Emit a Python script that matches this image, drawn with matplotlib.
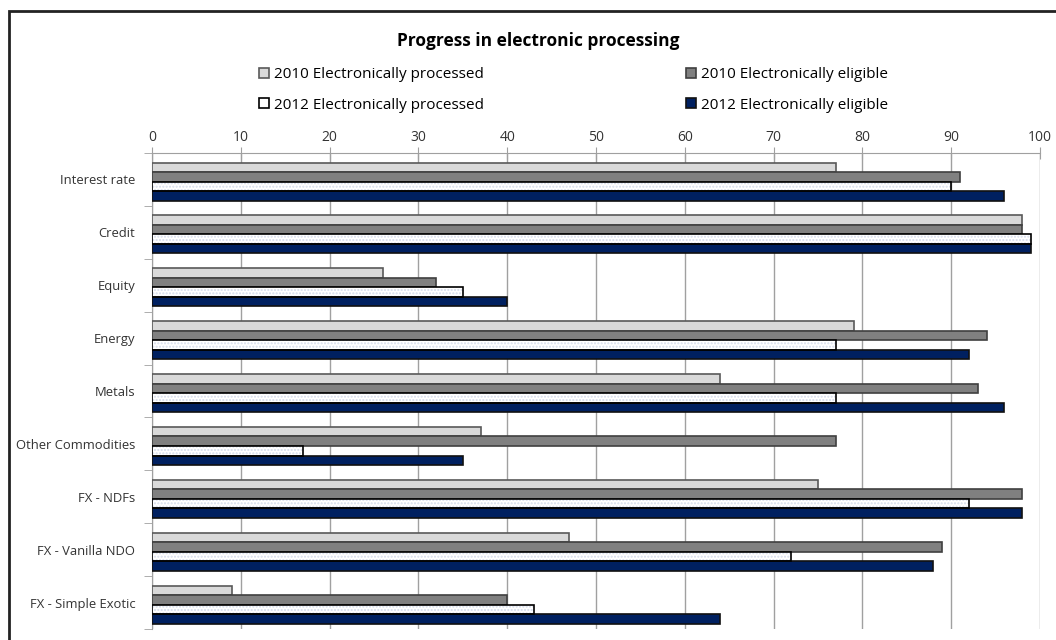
import numpy as np
import matplotlib
matplotlib.use("Agg")
from matplotlib import pyplot as plt
from matplotlib.patches import Rectangle

categories = ["Interest rate", "Credit", "Equity", "Energy", "Metals",
              "Other Commodities", "FX - NDFs", "FX - Vanilla NDO",
              "FX - Simple Exotic"]
proc_2010 = [77, 98, 26, 79, 64, 37, 75, 47, 9]
elig_2010 = [91, 98, 32, 94, 93, 77, 98, 89, 40]
proc_2012 = [90, 99, 35, 77, 77, 17, 92, 72, 43]
elig_2012 = [96, 99, 40, 92, 96, 35, 98, 88, 64]
xticks = list(range(0, 101, 10))

plt.rcParams['font.family'] = ['Open Sans', 'DejaVu Sans']

fig = plt.figure(figsize=(10.56, 6.4), dpi=100)
ax = fig.add_axes([152 / 1056, 1 - 629 / 640, 888 / 1056, 476 / 640])

# outer frame of the chart area
fig.patches.append(Rectangle((9 / 1056, -0.1), 1.2, 1 - 11 / 640 + 0.1,
                             transform=fig.transFigure, fill=False,
                             edgecolor='#222222', linewidth=2))

y = np.arange(len(categories))
h = 0.18
off = 0.04

b1 = ax.barh(y + off - 1.5 * h, proc_2010, height=h, color='#D9D9D9',
             edgecolor='#595959', linewidth=1.2, zorder=3)
b2 = ax.barh(y + off - 0.5 * h, elig_2010, height=h, color='#808080',
             edgecolor='#404040', linewidth=1.2, zorder=3)
ax.barh(y + off + 0.5 * h, proc_2012, height=h, color='white',
        edgecolor='#D5DCEC', hatch='.....', linewidth=0, zorder=3)
b3 = ax.barh(y + off + 0.5 * h, proc_2012, height=h, color='none',
             edgecolor='black', linewidth=1.2, zorder=4)
b4 = ax.barh(y + off + 1.5 * h, elig_2012, height=h, color='#002060',
             edgecolor='#111111', linewidth=1.2, zorder=3)

ax.set_xlim(0, 100)
ax.set_ylim(len(categories) - 0.5, -0.5)
ax.xaxis.tick_top()
ax.set_xticks(xticks)
ax.tick_params(axis='x', direction='inout', length=8, color='#A0A0A0',
               labelsize=10, pad=2, labelcolor='#333333')
ax.grid(axis='x', color='#A0A0A0', linewidth=1, zorder=0)

ax.set_yticks(y)
ax.set_yticklabels(categories)
ax.set_yticks(np.arange(-0.5, len(categories)), minor=True)
ax.tick_params(axis='y', which='major', length=0, pad=12, labelsize=9.4,
               labelcolor='#333333')
ax.tick_params(axis='y', which='minor', length=6, color='#A0A0A0')

for s in ['right', 'bottom']:
    ax.spines[s].set_visible(False)
ax.spines['top'].set_color('#A0A0A0')
ax.spines['left'].set_color('#A0A0A0')

fig.text(0.51, 1 - 41 / 640, "Progress in electronic processing", ha='center',
         va='center', fontsize=12.5, fontweight='bold')

handles = [b1, b3, b2, b4]
labels = ["2010 Electronically processed", "2012 Electronically processed",
          "2010 Electronically eligible", "2012 Electronically eligible"]
fig.legend(handles, labels, ncol=2, loc='center', frameon=False,
           bbox_to_anchor=(0.543, 1 - 90 / 640), fontsize=11,
           handlelength=0.65, handleheight=0.65, handletextpad=0.35,
           columnspacing=13.2, labelspacing=1.0)

fig.savefig("out.png", dpi=100)
